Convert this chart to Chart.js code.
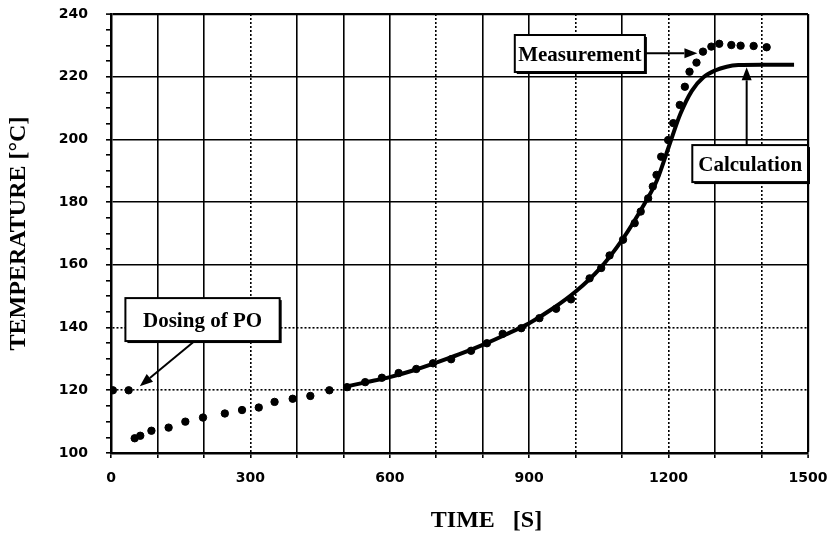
<!DOCTYPE html>
<html><head><meta charset="utf-8">
<script src="https://cdn.jsdelivr.net/npm/chart.js@4.4.0/dist/chart.umd.min.js"></script>
<style>html,body{margin:0;padding:0;background:#fff}</style>
</head><body>
<canvas id="c" width="833" height="537"></canvas>
<script>
// ---- data ----
const measTime = [51,63,87,124,160,198,245,282,318,352,391,429,470,508,547,583,619,657,693,732,775,809,843,883,922,958,990,1030,1055,1073,1102,1127,1140,1156,1166,1174,1184,1199,1210,1224,1235,1245,1260,1274,1292,1309,1335,1355,1383,1411];
const measTemp = [104.7,105.5,107.1,108.1,110,111.3,112.6,113.7,114.5,116.3,117.3,118.2,120,121,122.6,124,125.5,126.8,128.6,129.9,132.6,135,138,139.8,143,146,149,155.7,159,163,168,173.3,177,181.2,185,188.7,194.5,199.8,205.2,211,216.8,221.6,224.5,228,229.6,230.5,230.1,229.9,229.8,229.4];
const dosingTime = [4,38];
const dosingTemp = [120,120];
const calcTime = [500,550,600,650,700,750,800,850,900,950,1000,1050,1100,1150,1175,1200,1225,1250,1275,1300,1325,1350,1400,1470];
const calcTemp = [121,122.6,124.2,126.3,128.8,131.5,134.5,137.8,141.4,146,151.5,158.5,168,180,187,197.5,208,215.5,219.8,222,223.2,223.7,223.8,223.8];
const xTickLabels = [0,300,600,900,1200,1500];
const yTickLabels = [100,120,140,160,180,200,220,240];
const xDottedGrid = [300,700,1000,1200,1400];
const yDottedGrid = [120,140];

const toPts = (xs, ys) => xs.map((x,i)=>({x, y: ys[i]}));

const notes = [
  {text:'Measurement', x0:869, x1:1149, y0:221.5, y1:233.3, from:[1149,227.5], to:[1262,227.5]},
  {text:'Calculation', x0:1251, x1:1500, y0:186.4, y1:198.2, from:[1368,198.2], to:[1368,223.0]},
  {text:'Dosing of PO', x0:31, x1:363, y0:135.7, y1:149.4, from:[180,135.7], to:[62,121.3]}
];

const annotPlugin = {
  id:'annot',
  afterDraw(chart){
    const {ctx, scales:{x, y}} = chart;
    ctx.save();
    function arrow(fx,fy,tx,ty){
      const ang = Math.atan2(ty-fy, tx-fx);
      const hl = 13, hw = 5;
      const bx = tx - hl*Math.cos(ang), by = ty - hl*Math.sin(ang);
      ctx.strokeStyle='#000'; ctx.lineWidth=2;
      ctx.beginPath(); ctx.moveTo(fx,fy); ctx.lineTo(bx,by); ctx.stroke();
      ctx.fillStyle='#000';
      ctx.beginPath();
      ctx.moveTo(tx,ty);
      ctx.lineTo(bx + hw*Math.sin(ang), by - hw*Math.cos(ang));
      ctx.lineTo(bx - hw*Math.sin(ang), by + hw*Math.cos(ang));
      ctx.closePath(); ctx.fill();
    }
    notes.forEach(n=>{
      const l = x.getPixelForValue(n.x0), r = x.getPixelForValue(n.x1);
      const t = y.getPixelForValue(n.y1), b = y.getPixelForValue(n.y0);
      arrow(x.getPixelForValue(n.from[0]), y.getPixelForValue(n.from[1]), x.getPixelForValue(n.to[0]), y.getPixelForValue(n.to[1]));
      ctx.fillStyle='#000';
      ctx.fillRect(l+2, t+2, r-l, b-t);
      ctx.fillStyle='#fff';
      ctx.fillRect(l, t, r-l, b-t);
      ctx.strokeStyle='#000'; ctx.lineWidth=2;
      ctx.strokeRect(l, t, r-l, b-t);
      ctx.fillStyle='#000';
      ctx.font='bold 21px "Liberation Serif"';
      ctx.textAlign='center'; ctx.textBaseline='middle';
      ctx.fillText(n.text, (l+r)/2, (t+b)/2 + 2);
    });
    // x axis title
    ctx.font='bold 24px "Liberation Serif"';
    ctx.textAlign='center'; ctx.textBaseline='middle';
    ctx.fillStyle='#000';
    ctx.fillText('TIME   [S]', x.getPixelForValue(808), 521);
    ctx.restore();
  }
};

new Chart(document.getElementById('c'), {
  type:'scatter',
  data:{datasets:[
    {label:'Calculation', data: toPts(calcTime, calcTemp), showLine:true, borderColor:'#000', borderWidth:4, pointRadius:0, cubicInterpolationMode:'monotone', order:2},
    {label:'Measurement', data: toPts(measTime, measTemp), showLine:false, backgroundColor:'#000', borderColor:'#000', pointRadius:3.7, order:1},
    {label:'Dosing', data: toPts(dosingTime, dosingTemp), showLine:false, backgroundColor:'#000', borderColor:'#000', pointRadius:3.7, order:1}
  ]},
  options:{
    responsive:false, animation:false, devicePixelRatio:1,
    layout:{padding:{left:0, top:14, right:25, bottom:0}},
    plugins:{legend:{display:false}, tooltip:{enabled:false}},
    scales:{
      x:{
        type:'linear', min:0, max:1500,
        afterFit(s){ s.height = 84; s.paddingLeft = 0; s.paddingRight = 0; },
        ticks:{stepSize:100, autoSkip:false, maxRotation:0, padding:12, color:'#000',
          font:{family:'DejaVu Sans', weight:'bold', size:14},
          callback:(v)=> xTickLabels.includes(v) ? String(v) : ''},
        grid:{color:'#000', tickColor:'#000', tickLength:5,
          lineWidth:(c)=> (c.tick && (c.tick.value===1500)) ? 2.2 : 1.6, tickWidth:1.6},
        border:{color:'#000', width:2.5,
          dash:(c)=> (c.tick && xDottedGrid.includes(c.tick.value)) ? [2,2] : []}
      },
      y:{
        min:100, max:240,
        afterFit(s){ s.width = 111; s.paddingTop = 0; s.paddingBottom = 0; },
        ticks:{stepSize:5, autoSkip:false, padding:18, color:'#000',
          font:{family:'DejaVu Sans', weight:'bold', size:14},
          callback:(v)=> yTickLabels.includes(v) ? String(v) : ''},
        grid:{tickLength:5, tickColor:'#000', tickWidth:1.6,
          color:(c)=> (c.tick && yTickLabels.includes(c.tick.value)) ? '#000' : 'rgba(0,0,0,0)',
          lineWidth:(c)=> (c.tick && c.tick.value===240) ? 2.2 : 1.6},
        border:{color:'#000', width:2.5,
          dash:(c)=> (c.tick && yDottedGrid.includes(c.tick.value)) ? [2,2] : []},
        title:{display:true, text:'TEMPERATURE [°C]', color:'#000',
          font:{family:'Liberation Serif', weight:'bold', size:24}, padding:{top:4, bottom:0}}
      }
    }
  },
  plugins:[annotPlugin]
});
</script>
</body></html>
